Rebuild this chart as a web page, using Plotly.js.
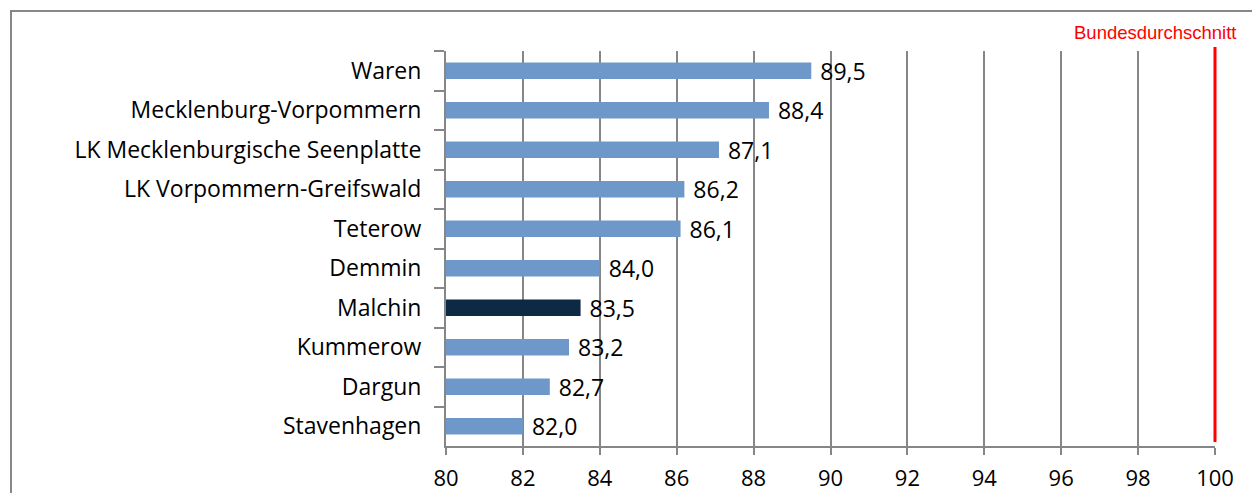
<!DOCTYPE html>
<html><head><meta charset="utf-8">
<script src="https://cdn.plot.ly/plotly-3.0.1.min.js"></script>
<style>
html,body{margin:0;padding:0;background:#fff;overflow:hidden;}
#frame{position:absolute;left:10px;top:10px;width:1270px;height:520px;border:2px solid #878787;box-sizing:border-box;}
#chart{position:absolute;left:0;top:0;width:1252px;height:493px;}
</style></head>
<body><div id="frame"></div><div id="chart"></div>
<script>
const categories = ["Waren","Mecklenburg-Vorpommern","LK Mecklenburgische Seenplatte","LK Vorpommern-Greifswald","Teterow","Demmin","Malchin","Kummerow","Dargun","Stavenhagen"];
const values = [89.5,88.4,87.1,86.2,86.1,84.0,83.5,83.2,82.7,82.0];
const highlight = "Malchin";
const referenceValue = 100;
const referenceLabel = "Bundesdurchschnitt";
const tickVals = [80,82,84,86,88,90,92,94,96,98,100];
const xRange = [80, 100];

const colors = categories.map(c => c === highlight ? "#0D2943" : "#6E98CA");
const labels = values.map(v => "\u00A0" + v.toFixed(1).replace(".", ","));
const FONT = "'Open Sans', 'Liberation Sans', sans-serif";
const refPaperX = (referenceValue - xRange[0]) / (xRange[1] - xRange[0]);

const trace = {
  type: "bar", orientation: "h",
  x: values, y: categories,
  marker: {color: colors},
  text: labels, textposition: "outside", cliponaxis: false, constraintext: "none",
  textfont: {family: FONT, size: 23, color: "#000"},
  hoverinfo: "none"
};

const layout = {
  width: 1252, height: 493,
  margin: {l: 446, r: 37, t: 51, b: 47},
  paper_bgcolor: "rgba(0,0,0,0)", plot_bgcolor: "rgba(0,0,0,0)",
  showlegend: false, bargap: 0.58,
  font: {family: FONT, size: 23, color: "#000"},
  xaxis: {
    range: xRange, tickvals: tickVals, ticktext: tickVals.map(String),
    showgrid: true, gridcolor: "#868686", gridwidth: 2,
    showline: true, linecolor: "#868686", linewidth: 2,
    ticks: "outside", ticklen: 7, tickcolor: "#868686", tickwidth: 2,
    ticklabelstandoff: 5,
    tickfont: {size: 22}, zeroline: false, fixedrange: true
  },
  yaxis: {
    autorange: "reversed", type: "category",
    showline: true, linecolor: "#868686", linewidth: 2,
    ticks: "outside", tickson: "boundaries", ticklen: 10, tickcolor: "#868686", tickwidth: 2,
    ticklabelstandoff: 18,
    tickfont: {size: 23}, showgrid: false, zeroline: false, fixedrange: true
  },
  shapes: [{
    type: "line", xref: "paper", yref: "paper",
    x0: refPaperX, x1: refPaperX, y0: 0.01, y1: 1.01,
    line: {color: "#FF0000", width: 3}
  }],
  annotations: [{
    xref: "paper", yref: "paper", x: refPaperX, y: 1.015,
    xanchor: "right", yanchor: "bottom", xshift: 24, showarrow: false,
    text: referenceLabel,
    font: {family: "'Liberation Sans', Arial, sans-serif", size: 18.5, color: "#FF0000"}
  }]
};

Plotly.newPlot("chart", [trace], layout, {displayModeBar: false, staticPlot: true});
</script></body></html>
